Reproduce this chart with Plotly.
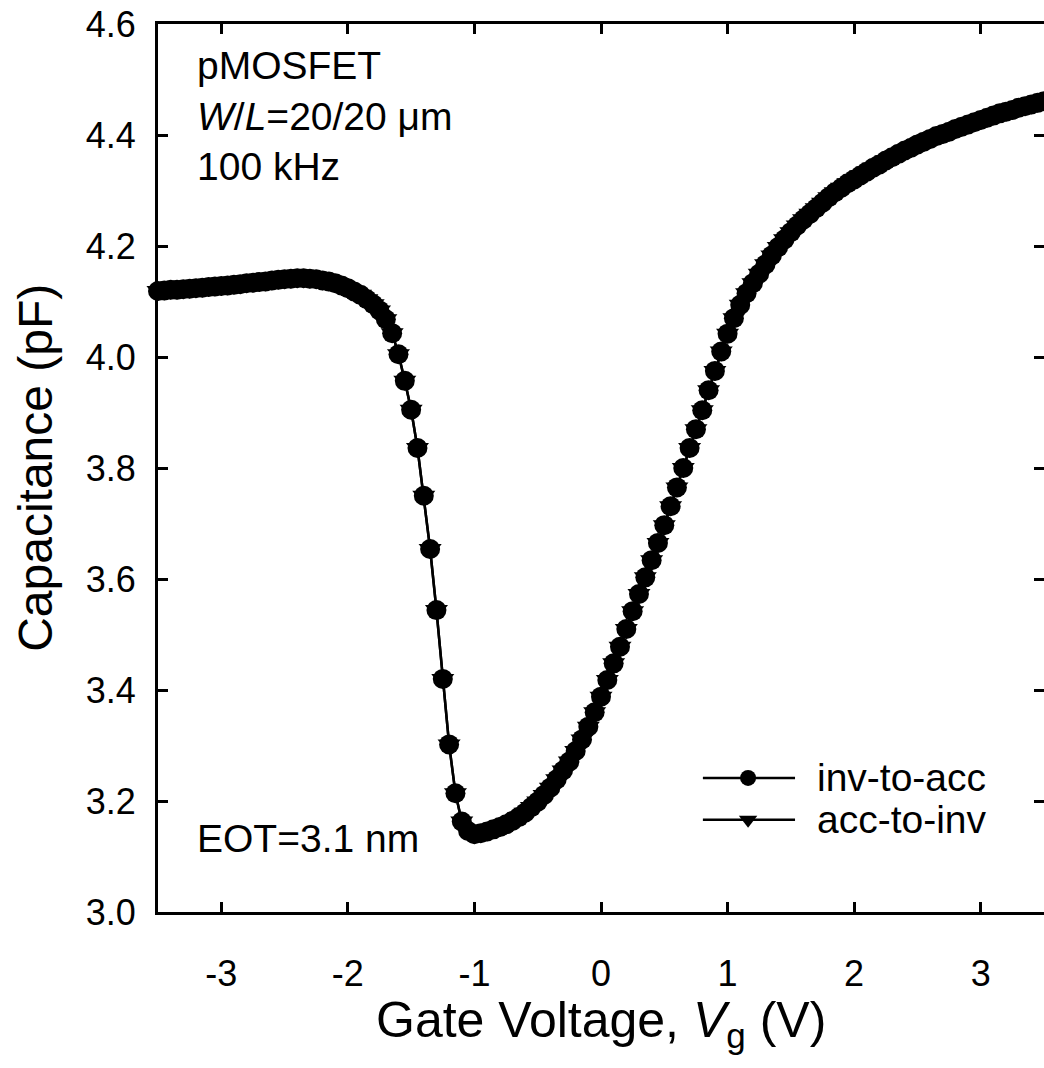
import plotly.graph_objects as go

# ---- data ----
gate_voltage_v = [
    -3.50, -3.45, -3.40, -3.35, -3.30, -3.25, -3.20, -3.15, -3.10, -3.05,
    -3.00, -2.95, -2.90, -2.85, -2.80, -2.75, -2.70, -2.65, -2.60, -2.55,
    -2.50, -2.45, -2.40, -2.35, -2.30, -2.25, -2.20, -2.15, -2.10, -2.05,
    -2.00, -1.95, -1.90, -1.85, -1.80, -1.75, -1.70, -1.65, -1.60, -1.55,
    -1.50, -1.45, -1.40, -1.35, -1.30, -1.25, -1.20, -1.15, -1.10, -1.05,
    -1.00, -0.95, -0.90, -0.85, -0.80, -0.75, -0.70, -0.65, -0.60, -0.55,
    -0.50, -0.45, -0.40, -0.35, -0.30, -0.25, -0.20, -0.15, -0.10, -0.05,
    0.00, 0.05, 0.10, 0.15, 0.20, 0.25, 0.30, 0.35, 0.40, 0.45,
    0.50, 0.55, 0.60, 0.65, 0.70, 0.75, 0.80, 0.85, 0.90, 0.95,
    1.00, 1.05, 1.10, 1.15, 1.20, 1.25, 1.30, 1.35, 1.40, 1.45,
    1.50, 1.55, 1.60, 1.65, 1.70, 1.75, 1.80, 1.85, 1.90, 1.95,
    2.00, 2.05, 2.10, 2.15, 2.20, 2.25, 2.30, 2.35, 2.40, 2.45,
    2.50, 2.55, 2.60, 2.65, 2.70, 2.75, 2.80, 2.85, 2.90, 2.95,
    3.00, 3.05, 3.10, 3.15, 3.20, 3.25, 3.30, 3.35, 3.40, 3.45,
    3.50,
]

inv_to_acc_pf = [
    4.119, 4.120, 4.121, 4.121, 4.122, 4.123, 4.124, 4.125, 4.126, 4.127,
    4.128, 4.129, 4.130, 4.131, 4.133, 4.134, 4.135, 4.136, 4.138, 4.139,
    4.140, 4.141, 4.142, 4.142, 4.141, 4.140, 4.138, 4.136, 4.133, 4.129,
    4.124, 4.118, 4.112, 4.104, 4.095, 4.084, 4.068, 4.043, 4.005, 3.957,
    3.905, 3.836, 3.750, 3.654, 3.544, 3.420, 3.302, 3.214, 3.163, 3.146,
    3.140, 3.142, 3.145, 3.149, 3.153, 3.158, 3.164, 3.171, 3.179, 3.189,
    3.199, 3.211, 3.224, 3.239, 3.255, 3.271, 3.290, 3.311, 3.334, 3.360,
    3.388, 3.418, 3.448, 3.478, 3.510, 3.542, 3.573, 3.603, 3.634, 3.665,
    3.697, 3.731, 3.765, 3.800, 3.836, 3.870, 3.904, 3.940, 3.975, 4.010,
    4.042, 4.070, 4.094, 4.115, 4.133, 4.150, 4.167, 4.183, 4.198, 4.212,
    4.225, 4.237, 4.248, 4.258, 4.268, 4.278, 4.288, 4.297, 4.305, 4.313,
    4.320, 4.327, 4.334, 4.341, 4.347, 4.354, 4.360, 4.366, 4.372, 4.377,
    4.383, 4.388, 4.393, 4.398, 4.402, 4.406, 4.411, 4.415, 4.419, 4.423,
    4.427, 4.431, 4.435, 4.439, 4.442, 4.445, 4.449, 4.452, 4.455, 4.458,
    4.461,
]

# the two sweeps coincide within the reading accuracy of the picture
acc_to_inv_pf = [
    4.119, 4.120, 4.121, 4.121, 4.122, 4.123, 4.124, 4.125, 4.126, 4.127,
    4.128, 4.129, 4.130, 4.131, 4.133, 4.134, 4.135, 4.136, 4.138, 4.139,
    4.140, 4.141, 4.142, 4.142, 4.141, 4.140, 4.138, 4.136, 4.133, 4.129,
    4.124, 4.118, 4.112, 4.104, 4.095, 4.084, 4.068, 4.043, 4.005, 3.957,
    3.905, 3.836, 3.750, 3.654, 3.544, 3.420, 3.302, 3.214, 3.163, 3.146,
    3.140, 3.142, 3.145, 3.149, 3.153, 3.158, 3.164, 3.171, 3.179, 3.189,
    3.199, 3.211, 3.224, 3.239, 3.255, 3.271, 3.290, 3.311, 3.334, 3.360,
    3.388, 3.418, 3.448, 3.478, 3.510, 3.542, 3.573, 3.603, 3.634, 3.665,
    3.697, 3.731, 3.765, 3.800, 3.836, 3.870, 3.904, 3.940, 3.975, 4.010,
    4.042, 4.070, 4.094, 4.115, 4.133, 4.150, 4.167, 4.183, 4.198, 4.212,
    4.225, 4.237, 4.248, 4.258, 4.268, 4.278, 4.288, 4.297, 4.305, 4.313,
    4.320, 4.327, 4.334, 4.341, 4.347, 4.354, 4.360, 4.366, 4.372, 4.377,
    4.383, 4.388, 4.393, 4.398, 4.402, 4.406, 4.411, 4.415, 4.419, 4.423,
    4.427, 4.431, 4.435, 4.439, 4.442, 4.445, 4.449, 4.452, 4.455, 4.458,
    4.461,
]

series_names = ["inv-to-acc", "acc-to-inv"]
x_tick_values = [-3, -2, -1, 0, 1, 2, 3]
x_tick_labels = ["-3", "-2", "-1", "0", "1", "2", "3"]
y_tick_values = [3.0, 3.2, 3.4, 3.6, 3.8, 4.0, 4.2, 4.4, 4.6]
y_tick_labels = ["3.0", "3.2", "3.4", "3.6", "3.8", "4.0", "4.2", "4.4", "4.6"]
info_lines = ["pMOSFET", "<i>W</i>/<i>L</i>=20/20 μm", "100 kHz"]
eot_label = "EOT=3.1 nm"

# ---- styling ----
FONT = "Liberation Sans, Arial, Helvetica, sans-serif"
TICK_SIZE = 36
TEXT_SIZE = 39
MARK_C = 20
MARK_T = 20

fig = go.Figure()

fig.add_trace(go.Scatter(
    x=gate_voltage_v, y=acc_to_inv_pf, mode="lines+markers", name=series_names[1],
    line=dict(color="black", width=2.5),
    marker=dict(symbol="triangle-down", size=MARK_T, color="black"),
    cliponaxis=False, showlegend=False,
))
fig.add_trace(go.Scatter(
    x=gate_voltage_v, y=inv_to_acc_pf, mode="lines+markers", name=series_names[0],
    line=dict(color="black", width=2.5),
    marker=dict(symbol="circle", size=MARK_C, color="black"),
    cliponaxis=False, showlegend=False,
))

# ---- custom legend on an overlay axis (long line samples like the reference) ----
leg_x0, leg_xm, leg_x1, leg_text_x = 0.615, 0.666, 0.719, 0.742
leg_rows = [0.151, 0.104]
leg_symbols = ["circle", "triangle-down"]
leg_sizes = [16, 16]
for name, sym, msz, ly in zip(series_names, leg_symbols, leg_sizes, leg_rows):
    fig.add_trace(go.Scatter(
        x=[leg_x0, leg_x1], y=[ly, ly], xaxis="x2", yaxis="y2",
        mode="lines", line=dict(color="black", width=2.5),
        showlegend=False, hoverinfo="skip", cliponaxis=False,
    ))
    fig.add_trace(go.Scatter(
        x=[leg_xm], y=[ly], xaxis="x2", yaxis="y2",
        mode="markers", marker=dict(symbol=sym, size=msz, color="black"),
        showlegend=False, hoverinfo="skip", cliponaxis=False,
    ))
    fig.add_annotation(x=leg_text_x, y=ly, xref="paper", yref="paper",
                       text=name, showarrow=False, xanchor="left", yanchor="middle",
                       font=dict(family=FONT, size=TEXT_SIZE, color="black"))

axis_common = dict(
    showline=True, linecolor="black", linewidth=3, mirror="ticks",
    ticks="inside", ticklen=10, tickwidth=2.5, tickcolor="black",
    showgrid=False, zeroline=False, automargin=False,
    tickfont=dict(family=FONT, size=TICK_SIZE, color="black"),
)

fig.update_layout(
    width=1044, height=1068,
    margin=dict(l=158, r=0, t=24, b=156),
    paper_bgcolor="white", plot_bgcolor="white",
    font=dict(family=FONT, color="black"),
    showlegend=False,
    xaxis=dict(range=[-3.5, 3.5], tickvals=x_tick_values, ticktext=x_tick_labels,
               ticklabelstandoff=28, **axis_common),
    yaxis=dict(range=[3.0, 4.6], tickvals=y_tick_values, ticktext=y_tick_labels,
               ticklabelstandoff=12, **axis_common),
    xaxis2=dict(range=[0, 1], overlaying="x", visible=False, fixedrange=True),
    yaxis2=dict(range=[0, 1], overlaying="y", visible=False, fixedrange=True),
)

# axis titles
fig.add_annotation(x=0.5, y=-0.125, xref="paper", yref="paper",
                   text="Gate Voltage, <i>V</i><sub>g</sub> (V)", showarrow=False,
                   xanchor="center", yanchor="middle",
                   font=dict(family=FONT, size=50, color="black"))
fig.add_annotation(x=-0.139, y=0.5, xref="paper", yref="paper",
                   text="Capacitance (pF)", showarrow=False, textangle=-90,
                   xanchor="center", yanchor="middle",
                   font=dict(family=FONT, size=48, color="black"))

# text labels
fig.add_annotation(x=0.042, y=0.98, xref="paper", yref="paper",
                   text="<br>".join(info_lines), showarrow=False, align="left",
                   xanchor="left", yanchor="top",
                   font=dict(family=FONT, size=TEXT_SIZE, color="black"))
fig.add_annotation(x=0.042, y=0.083, xref="paper", yref="paper",
                   text=eot_label, showarrow=False, align="left",
                   xanchor="left", yanchor="middle",
                   font=dict(family=FONT, size=TEXT_SIZE, color="black"))

fig.write_html("out.html")
